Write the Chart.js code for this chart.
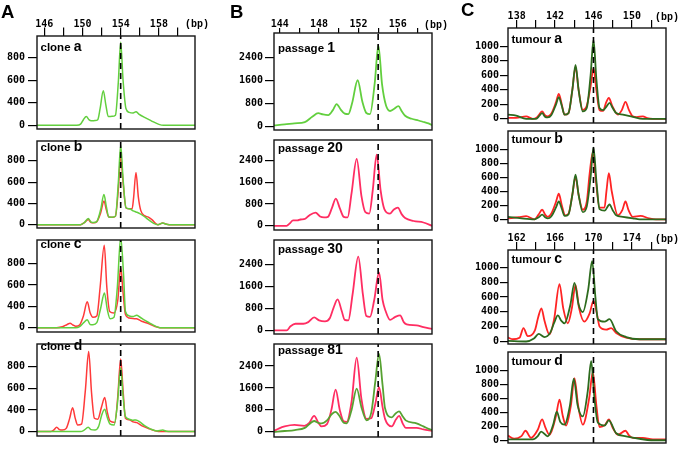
<!DOCTYPE html>
<html><head><meta charset="utf-8">
<script src="https://cdn.jsdelivr.net/npm/chart.js@4.4.1/dist/chart.umd.min.js"></script>
<style>
body{margin:0;background:#fff;width:680px;height:451px;overflow:hidden;position:relative;font-family:"Liberation Sans",Arial,sans-serif;}
canvas{position:absolute;}
.lbl{position:absolute;font-weight:bold;font-size:11.5px;line-height:12px;white-space:nowrap;color:#000;}
.lbl span{font-size:14px;}
.bp{position:absolute;font:bold 10px "Liberation Mono",monospace;line-height:10px;color:#000;}
.pl{position:absolute;font:bold 18.5px "Liberation Sans",Arial,sans-serif;line-height:19px;color:#000;}
</style></head><body>
<script>
// ---------- tick definitions ----------
const A_XTICKS = [146,148,150,152,154,156,158,160];
const A_XLABELS = ['146','','150','','154','','158',''];
const B_XTICKS = [144,146,148,150,152,154,156,158];
const B_XLABELS = ['144','','148','','152','','156',''];
const C_XTICKS_TOP = [138,140,142,144,146,148,150,152];
const C_XLABELS_TOP = ['138','','142','','146','','150',''];
const C_XTICKS_MID = [162,164,166,168,170,172,174,176];
const C_XLABELS_MID = ['162','','166','','170','','174',''];
const A_YTICKS = [0,200,400,600];
const A_YLABELS = ['0','400','600','800'];
const B_YTICKS = [0,800,1600,2400];
const B_YLABELS = ['0','800','1600','2400'];
const C_YTICKS = [0,200,400,600,800,1000];
const C_YLABELS = ['0','200','400','600','800','1000'];

// ---------- panel A (clones) ----------
const cloneA_green = [[145.2,0],[149.4,0],[149.8,10],[150.1,50],[150.4,78],[150.7,48],[150.9,40],[151.3,42],[151.6,50],[151.85,150],[152.18,307],[152.45,180],[152.7,78],[153.1,80],[153.45,90],[153.75,380],[154.0,739],[154.25,400],[154.55,150],[154.9,115],[155.3,110],[155.6,120],[155.9,100],[156.5,70],[157.2,40],[158.0,8],[158.5,0],[161.8,0]];
const cloneB_red = [[145.2,0],[149.8,0],[150.2,20],[150.6,50],[150.9,20],[151.2,18],[151.5,28],[151.9,110],[152.25,223],[152.5,140],[152.75,72],[153.1,70],[153.45,80],[153.75,330],[154.0,650],[154.25,400],[154.55,160],[154.9,150],[155.2,150],[155.35,250],[155.6,490],[155.85,260],[156.1,135],[156.5,85],[156.9,71],[157.3,45],[157.7,8],[157.9,0],[158.4,15],[158.8,5],[159.3,0],[161.8,0]];
const cloneB_green = [[145.2,0],[149.8,0],[150.2,20],[150.6,58],[150.9,25],[151.2,20],[151.5,30],[151.9,140],[152.25,283],[152.5,170],[152.75,72],[153.1,71],[153.45,80],[153.75,390],[154.0,746],[154.25,430],[154.55,160],[154.9,150],[155.3,130],[155.6,120],[156.0,105],[156.5,75],[157.0,40],[157.5,10],[157.9,0],[158.4,15],[158.8,5],[159.3,0],[161.8,0]];
const cloneC_red = [[145.2,0],[147.3,0],[147.9,8],[148.4,30],[148.7,41],[149.0,25],[149.3,12],[149.7,25],[150.1,110],[150.5,243],[150.8,140],[151.1,97],[151.5,110],[151.85,380],[152.28,774],[152.55,380],[152.85,152],[153.3,138],[153.7,260],[154.0,567],[154.25,330],[154.5,124],[154.9,90],[155.3,85],[155.67,83],[156.2,60],[156.9,38],[157.6,10],[158.1,0],[161.8,0]];
const cloneC_green = [[145.2,0],[149.3,0],[149.7,10],[150.1,45],[150.5,75],[150.8,30],[151.1,28],[151.5,47],[151.9,180],[152.3,326],[152.6,170],[152.9,83],[153.3,97],[153.65,380],[154.0,850],[154.3,500],[154.5,152],[154.9,110],[155.3,105],[155.67,116],[156.0,100],[156.5,70],[157.0,45],[157.6,15],[158.1,0],[161.8,0]];
const cloneD_red = [[145.2,0],[146.7,0],[147.0,15],[147.3,41],[147.6,18],[147.9,14],[148.3,30],[148.65,120],[148.97,220],[149.25,120],[149.5,60],[149.9,69],[150.3,380],[150.65,743],[150.95,360],[151.25,124],[151.6,115],[152.0,230],[152.33,316],[152.6,180],[152.9,96],[153.4,85],[153.7,330],[154.0,674],[154.25,380],[154.5,124],[154.9,110],[155.3,90],[155.7,83],[156.3,50],[157.0,25],[157.6,8],[158.2,0],[161.8,0]];
const cloneD_green = [[145.2,0],[149.8,0],[150.2,15],[150.6,41],[150.9,18],[151.3,14],[151.7,50],[152.0,150],[152.33,206],[152.6,130],[152.9,69],[153.3,60],[153.65,250],[154.0,592],[154.25,330],[154.5,138],[154.9,115],[155.3,105],[155.6,108],[156.0,90],[156.5,55],[157.1,25],[157.8,5],[158.4,14],[158.8,3],[159.3,0],[161.8,0]];

// ---------- panel B (passages) ----------
const passage1_green = [[143.42,30],[144.5,60],[145.5,100],[146.55,143],[147.3,330],[147.91,455],[148.4,410],[148.93,389],[149.4,560],[149.78,774],[150.2,580],[150.6,440],[150.97,422],[151.35,800],[151.92,1605],[152.4,850],[152.8,460],[153.17,422],[153.65,1500],[154.02,2824],[154.4,1450],[154.8,720],[155.21,531],[155.6,600],[156.06,698],[156.4,520],[156.74,365],[157.4,260],[158.1,199],[158.7,140],[159.12,100],[159.47,33]];
const passage20_red = [[143.42,0],[144.7,0],[145.0,80],[145.36,198],[145.8,198],[146.1,231],[146.6,260],[147.0,380],[147.64,484],[148.1,340],[148.5,308],[148.9,330],[149.3,650],[149.7,1000],[150.1,650],[150.5,330],[150.9,308],[151.3,1200],[151.82,2463],[152.3,1100],[152.7,500],[153.1,450],[153.45,1300],[153.85,2617],[154.25,1300],[154.63,615],[155.21,450],[155.6,600],[156.0,671],[156.4,420],[156.74,286],[157.6,176],[158.6,121],[159.47,0]];
const passage30_red = [[143.42,0],[144.7,0],[145.1,150],[145.6,240],[146.4,240],[146.9,300],[147.5,469],[148.0,360],[148.6,327],[149.1,450],[149.45,800],[149.88,1124],[150.3,700],[150.6,380],[150.97,360],[151.4,1300],[151.98,2675],[152.45,1300],[152.8,520],[153.17,491],[153.6,1100],[154.09,2096],[154.45,1100],[154.75,709],[155.21,382],[155.7,480],[156.23,546],[156.6,300],[156.9,218],[157.9,185],[158.6,120],[159.47,55]];
const passage81_red = [[143.42,33],[143.9,120],[144.5,198],[145.5,253],[146.5,220],[147.0,330],[147.5,583],[147.9,350],[148.25,198],[148.8,280],[149.25,800],[149.68,1540],[150.1,800],[150.5,380],[150.8,363],[151.3,1100],[151.82,2706],[152.3,1200],[152.83,473],[153.3,500],[153.7,1000],[154.09,1628],[154.45,900],[154.7,473],[155.38,198],[155.8,450],[156.13,583],[156.5,300],[156.8,143],[157.9,143],[158.6,90],[159.47,33]];
const passage81_green = [[143.42,0],[144.5,30],[145.53,66],[146.55,143],[147.0,280],[147.5,396],[147.9,330],[148.25,308],[148.8,420],[149.3,650],[149.68,726],[150.1,560],[150.5,330],[150.8,308],[151.3,800],[151.82,1573],[152.3,900],[152.83,418],[153.3,700],[153.7,1800],[154.09,2838],[154.45,1700],[154.7,858],[155.38,528],[155.8,680],[156.13,748],[156.5,560],[156.8,418],[157.9,308],[158.6,198],[159.2,100],[159.47,66]];

// ---------- panel C (tumours) ----------
const tumourA_red = [[137.1,13],[137.94,13],[138.99,35],[139.68,0],[140.1,20],[140.35,60],[140.65,102],[140.95,50],[141.24,35],[141.6,70],[142.1,230],[142.39,345],[142.7,200],[142.98,58],[143.4,80],[143.8,400],[144.13,721],[144.45,400],[144.89,124],[145.3,180],[145.7,450],[146.0,699],[146.3,400],[146.63,120],[147.0,110],[147.3,220],[147.6,288],[147.95,180],[148.54,58],[148.95,120],[149.33,235],[149.7,120],[150.1,35],[150.5,25],[151.14,35],[151.6,10],[152.18,0],[153.55,0]];
const tumourA_green = [[137.1,58],[137.94,44],[138.99,0],[140.03,0],[140.35,40],[140.65,80],[140.95,30],[141.24,20],[141.6,50],[142.1,200],[142.39,301],[142.7,180],[142.98,58],[143.4,80],[143.8,400],[144.13,743],[144.45,400],[144.89,102],[145.3,150],[145.7,600],[146.0,1088],[146.3,550],[146.63,150],[147.0,120],[147.35,170],[147.67,221],[148.0,150],[148.36,80],[149.06,58],[150.1,27],[151.14,0],[153.55,0]];
const tumourB_red = [[137.1,13],[138.2,30],[138.99,44],[139.85,0],[140.3,70],[140.65,136],[141.0,60],[141.24,35],[141.6,80],[142.1,250],[142.39,364],[142.7,200],[143.05,57],[143.4,80],[143.8,350],[144.13,605],[144.45,350],[144.89,136],[145.3,250],[145.6,650],[145.93,956],[146.25,550],[146.63,167],[147.15,167],[147.35,400],[147.6,658],[147.9,400],[148.54,57],[149.0,130],[149.33,254],[149.65,130],[150.1,35],[150.9,48],[151.8,13],[152.5,0],[153.55,0]];
const tumourB_green = [[137.1,35],[138.5,13],[139.85,0],[140.3,30],[140.65,66],[141.0,25],[141.24,13],[141.6,40],[142.1,170],[142.39,254],[142.7,150],[143.0,48],[143.4,70],[143.8,350],[144.13,636],[144.45,350],[144.89,101],[145.3,180],[145.7,600],[146.0,1022],[146.3,550],[146.63,145],[147.15,123],[147.67,211],[148.0,130],[148.36,57],[149.06,35],[150.1,13],[150.8,0],[153.55,0]];
const tumourC_red = [[161.1,52],[161.6,30],[162.3,50],[162.71,181],[163.16,73],[163.9,150],[164.25,330],[164.58,448],[164.9,280],[165.42,95],[165.9,300],[166.46,776],[166.85,450],[167.33,246],[167.75,450],[168.13,763],[168.5,450],[169.06,267],[169.6,380],[170.0,547],[170.35,380],[170.63,203],[171.32,160],[171.84,181],[172.36,116],[173.4,52],[174.79,30],[177.55,30]];
const tumourC_green = [[161.1,9],[162.99,0],[163.8,40],[164.3,103],[164.9,60],[165.5,120],[165.9,250],[166.29,353],[166.65,280],[166.98,246],[167.6,500],[168.02,793],[168.45,500],[168.89,397],[169.45,700],[169.86,1086],[170.2,600],[170.45,302],[171.15,267],[171.67,302],[172.36,138],[173.4,60],[174.79,30],[177.55,30]];
const tumourD_red = [[161.1,66],[161.77,22],[162.5,60],[162.92,136],[163.5,35],[164.2,150],[164.65,298],[165.0,180],[165.42,79],[166.1,350],[166.46,583],[166.8,350],[167.15,211],[167.65,500],[168.02,890],[168.4,500],[168.89,224],[169.55,600],[169.93,978],[170.3,500],[170.63,189],[171.2,220],[171.6,298],[172.0,180],[172.54,79],[173.33,136],[173.7,70],[174.1,35],[175.14,35],[176.18,13],[177.55,13]];
const tumourD_green = [[161.1,13],[163.7,13],[164.2,60],[164.55,123],[165.24,57],[165.8,220],[166.18,408],[166.55,260],[166.98,224],[167.55,500],[167.95,882],[168.35,500],[168.89,342],[169.4,700],[169.76,1132],[170.1,600],[170.45,254],[171.15,211],[171.6,285],[172.36,101],[173.4,57],[174.79,22],[176.0,0],[177.55,0]];

// ---------- styling ----------
const GREEN_A = '#62cf3e', RED_A = '#ff3a3a';
const RED_B = '#ff2d62', GREEN_B = '#57a232';
const GREEN_C = '#2d6b1e', RED_C = '#ff2424';
const TICK_FONT = {family:'"DejaVu Sans Mono", "Liberation Mono", monospace', weight:'bold', size:10, lineHeight:1};

const A_COL = {left:37, right:195, yW:37, xMin:145.24, xMax:161.78, yTicks:A_YTICKS, yLabels:A_YLABELS, ytl:9, ypad:3, marker:154};
const B_COL = {left:274, right:432, yW:46, xMin:143.42, xMax:159.47, yTicks:B_YTICKS, yLabels:B_YLABELS, ytl:9, ypad:2, marker:154};
const C_COL = {left:508, right:666, yW:46, xMin:137.1, xMax:153.55, yTicks:C_YTICKS, yLabels:C_YLABELS, ytl:8, ypad:1, marker:146};
const C_COL2 = Object.assign({}, C_COL, {xMin:161.1, xMax:177.55, marker:170});

const PANELS = [
 Object.assign({}, A_COL, {top:36, bottom:135, yMin:-33, yMax:795, topAxis:{t:A_XTICKS, l:A_XLABELS, h:22, tl:8.5, pad:-1.5}, series:[[cloneA_green,GREEN_A,1.5]]}),
 Object.assign({}, A_COL, {top:135, bottom:234, yMin:-31, yMax:787, series:[[cloneB_green,GREEN_A,1.5],[cloneB_red,RED_A,1.5]]}),
 Object.assign({}, A_COL, {top:234, bottom:338, yMin:-41, yMax:824, series:[[cloneC_green,GREEN_A,1.5],[cloneC_red,RED_A,1.5]]}),
 Object.assign({}, A_COL, {top:338, bottom:442, yMin:-41, yMax:812, series:[[cloneD_green,GREEN_A,1.5],[cloneD_red,RED_A,1.5]]}),
 Object.assign({}, B_COL, {top:33, bottom:135, yMin:-133, yMax:3255, topAxis:{t:B_XTICKS, l:B_XLABELS, h:16, tl:5, pad:-1.5}, series:[[passage1_green,GREEN_A,1.8]]}),
 Object.assign({}, B_COL, {top:135, bottom:235, yMin:-155, yMax:3155, series:[[passage20_red,RED_B,1.8]]}),
 Object.assign({}, B_COL, {top:235, bottom:339, yMin:-131, yMax:3274, series:[[passage30_red,RED_B,1.8]]}),
 Object.assign({}, B_COL, {top:339, bottom:442, yMin:-188, yMax:3202, series:[[passage81_green,GREEN_B,1.8],[passage81_red,RED_B,1.8]]}),
 Object.assign({}, C_COL, {top:28, bottom:127, yMin:-57, yMax:1253, topAxis:{t:C_XTICKS_TOP, l:C_XLABELS_TOP, h:22, tl:8, pad:-1}, series:[[tumourA_green,GREEN_C,1.8],[tumourA_red,RED_C,1.8]]}),
 Object.assign({}, C_COL, {top:127, bottom:227, yMin:-53, yMax:1259, series:[[tumourB_green,GREEN_C,1.8],[tumourB_red,RED_C,1.8]]}),
 Object.assign({}, C_COL2, {top:250, bottom:348, yMin:-34, yMax:1236, topAxis:{t:C_XTICKS_MID, l:C_XLABELS_MID, h:22, tl:8, pad:-1}, series:[[tumourC_green,GREEN_C,1.8],[tumourC_red,RED_C,1.8]]}),
 Object.assign({}, C_COL2, {top:348, bottom:447, yMin:-39, yMax:1263, series:[[tumourD_green,GREEN_C,1.8],[tumourD_red,RED_C,1.8]]})
];

const framePlugin = {id:'frame', afterDatasetsDraw(chart){
  const {ctx, chartArea:a} = chart; ctx.save(); ctx.strokeStyle='#151515'; ctx.lineWidth=1.4;
  ctx.strokeRect(a.left, a.top, a.right-a.left, a.bottom-a.top); ctx.restore(); }};

function makePanel(p){
  const padT=2, padB=2, padR=2;
  const topH = p.topAxis ? p.topAxis.h : 0;
  const boxW = p.right-p.left, boxH = p.bottom-p.top;
  const W = p.yW+boxW+padR, H = padT+topH+boxH+padB;
  const cv = document.createElement('canvas');
  cv.width=W; cv.height=H; cv.style.width=W+'px'; cv.style.height=H+'px';
  cv.style.left=(p.left-p.yW)+'px'; cv.style.top=(p.top-topH-padT)+'px';
  document.body.appendChild(cv);
  const datasets=[{data:[{x:p.marker,y:p.yMin},{x:p.marker,y:p.yMax}], borderColor:'#000', borderWidth:1.6, borderDash:[6,4], pointRadius:0, tension:0}];
  p.series.forEach(([d,c,w])=>datasets.push({data:d.map(([x,y])=>({x,y})), borderColor:c, borderWidth:w, pointRadius:0, cubicInterpolationMode:'monotone', fill:false}));
  const ta = p.topAxis || {t:[],l:[],tl:0,pad:0};
  new Chart(cv,{type:'line', data:{datasets}, plugins:[framePlugin], options:{
    responsive:false, animation:false, devicePixelRatio:1, events:[],
    layout:{padding:{left:0,top:padT,right:padR,bottom:padB}},
    plugins:{legend:{display:false}, tooltip:{enabled:false}},
    scales:{
      x:{type:'linear', position:'top', display:!!p.topAxis, min:p.xMin, max:p.xMax,
        afterFit:s=>{s.height=topH;},
        afterBuildTicks:s=>{s.ticks=ta.t.map(v=>({value:v}));},
        ticks:{autoSkip:false, maxRotation:0, padding:ta.pad, font:TICK_FONT, color:'#000', callback:(v,i)=>ta.l[i]},
        grid:{drawOnChartArea:false, drawTicks:true, tickLength:ta.tl, color:'#000', lineWidth:1.2},
        border:{display:false}},
      y:{type:'linear', min:p.yMin, max:p.yMax,
        afterFit:s=>{s.width=p.yW;},
        afterBuildTicks:s=>{s.ticks=p.yTicks.map(v=>({value:v}));},
        ticks:{autoSkip:false, padding:p.ypad, font:TICK_FONT, color:'#000', callback:(v,i)=>p.yLabels[i]},
        grid:{drawOnChartArea:false, drawTicks:true, tickLength:p.ytl, color:'#000', lineWidth:1.2},
        border:{display:false}}
    }}});
}
PANELS.forEach(makePanel);

// ---------- text labels ----------
const PANEL_TEXT = [
 ['clone','a',40.5,51],['clone','b',40.5,151],['clone','c',40.5,248],['clone','d',40.5,350],
 ['passage','1',278,52],['passage','20',278,152],['passage','30',278,253],['passage','81',278,354],
 ['tumour','a',511.5,43],['tumour','b',511.5,143],['tumour','c',511.5,263],['tumour','d',511.5,365]
];
PANEL_TEXT.forEach(([w,s,x,b])=>{
  const d=document.createElement('div'); d.className='lbl';
  d.style.left=x+'px'; d.style.top=(b-10.85)+'px';
  d.innerHTML=w+' <span>'+s+'</span>'; document.body.appendChild(d);
});
[['(bp)',185,19.5],['(bp)',424,20.5],['(bp)',655,12.5],['(bp)',655,234.5]].forEach(([t,x,y])=>{
  const d=document.createElement('div'); d.className='bp'; d.style.left=x+'px'; d.style.top=y+'px'; d.textContent=t; document.body.appendChild(d);
});
[['A',1,1.5],['B',230,1.8],['C',461,-0.2]].forEach(([t,x,y])=>{
  const d=document.createElement('div'); d.className='pl'; d.style.left=x+'px'; d.style.top=y+'px'; d.textContent=t; document.body.appendChild(d);
});
</script>
</body></html>
